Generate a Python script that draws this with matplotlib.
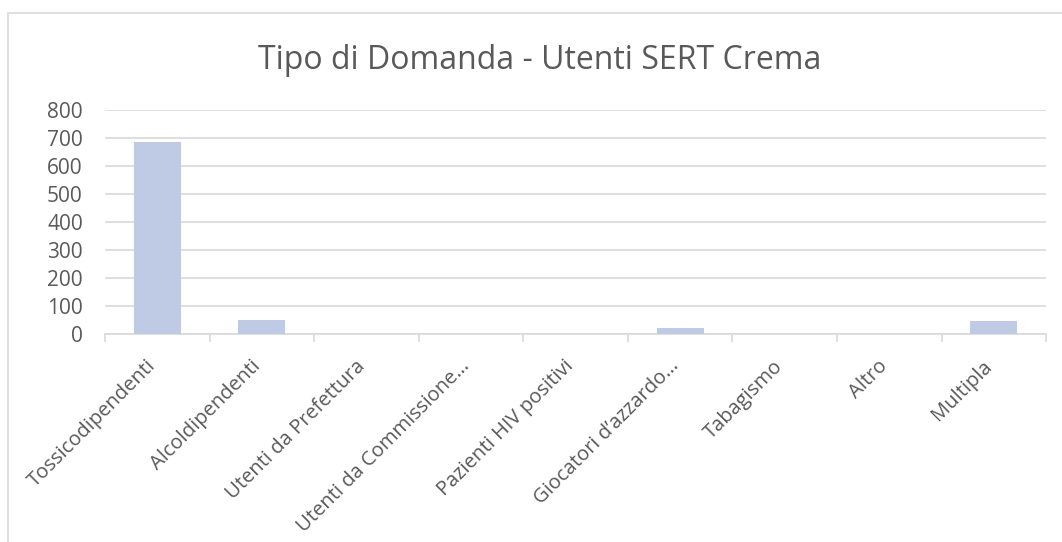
import matplotlib.pyplot as plt
import numpy as np

# categories and values
categorie = ["Tossicodipendenti", "Alcoldipendenti", "Utenti da Prefettura",
             "Utenti da Commissione…", "Pazienti HIV positivi",
             "Giocatori d’azzardo…", "Tabagismo", "Altro", "Multipla"]
utenti = [685, 51, 0, 0, 0, 22, 0, 0, 48]
y_ticks = [0, 100, 200, 300, 400, 500, 600, 700, 800]

plt.rcParams['font.family'] = ['Open Sans', 'DejaVu Sans']
grigio = "#595959"

fig = plt.figure(figsize=(10.62, 5.42), dpi=100)
ax = fig.add_axes([0.0989, 0.3838, 0.8861, 0.4132])

x = np.arange(len(categorie))
ax.bar(x, utenti, width=0.45, color="#BFCAE5", zorder=3)

ax.set_xlim(-0.5, len(categorie) - 0.5)
ax.set_ylim(0, 800)
ax.set_yticks(y_ticks)
ax.set_yticklabels([str(v) for v in y_ticks], fontsize=15, color=grigio)
ax.yaxis.grid(True, color="#D9D9D9", linewidth=1.2, zorder=0)
ax.tick_params(axis='y', length=0, pad=16)

# category boundaries as ticks, labels centred on bars
ax.set_xticks(np.arange(len(categorie) + 1) - 0.5)
ax.set_xticklabels([])
ax.tick_params(axis='x', length=6, color="#D9D9D9", width=1.2, direction='out')
ax.set_xticks(x - 0.11, minor=True)
ax.set_xticklabels(categorie, minor=True, rotation=45, ha='right',
                   rotation_mode='anchor', fontsize=14.5, color=grigio)
ax.tick_params(axis='x', which='minor', length=0, pad=16)

for s in ["top", "right", "left"]:
    ax.spines[s].set_visible(False)
ax.spines["bottom"].set_color("#D9D9D9")
ax.spines["bottom"].set_linewidth(1.2)

fig.text(0.508, 0.889, "Tipo di Domanda - Utenti SERT Crema", ha='center',
         va='center', fontsize=23, color=grigio)

# chart border
fig.patches.append(plt.Rectangle((8 / 1062, -0.05), 1.1, 1 - 13 / 542 + 0.05,
                                 transform=fig.transFigure, fill=False,
                                 edgecolor="#D9D9D9", linewidth=1.2))

fig.savefig("out.png", dpi=100)
